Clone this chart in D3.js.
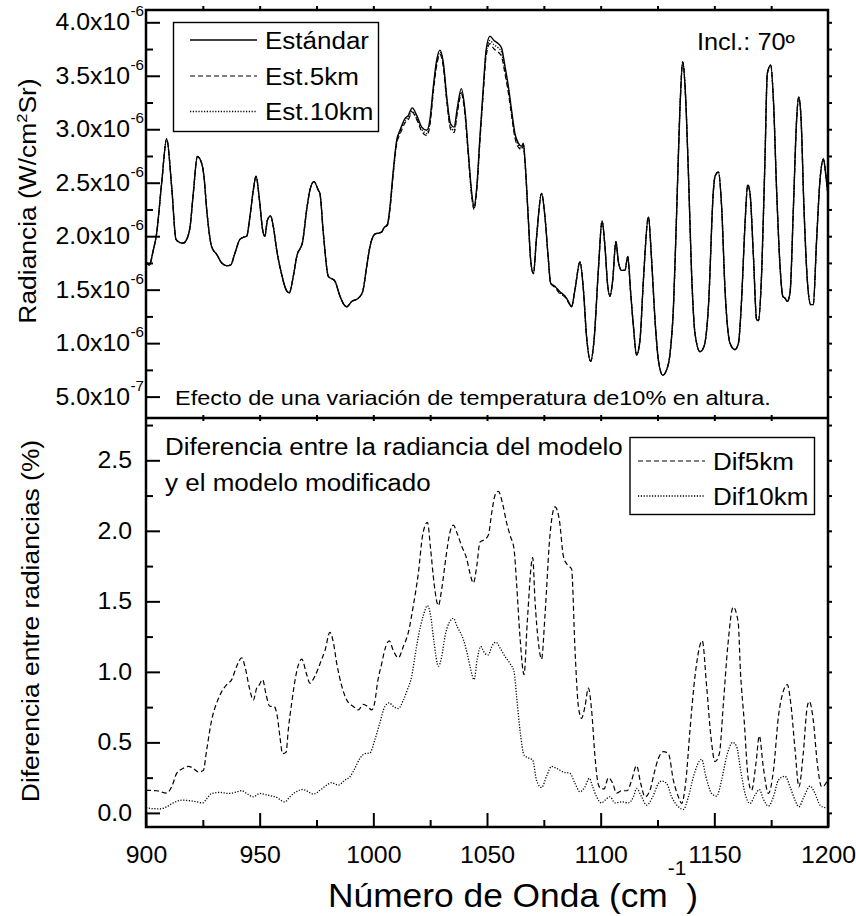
<!DOCTYPE html>
<html><head><meta charset="utf-8">
<script src="https://cdn.jsdelivr.net/npm/d3@7"></script>
<style>
body{margin:0;background:#fff}
svg{display:block}
text{font-family:"Liberation Sans",Arial,Helvetica,sans-serif;fill:#000}
</style>
</head><body>
<svg id="c" width="856" height="916"></svg>
<script>
// ---------- DATA (radiance in units of 1e-6 W/cm²Sr, differences in %) ----------
const waveTop = [900,901.5,903,904.7,906.9,909.1,911.3,913.2,915,916.4,
917.9,919.4,920.8,922.6,924.5,925.5,926.7,928.9,931.1,933.3,
935.5,937.2,939.1,941.3,942.8,944.3,945.7,947.2,948.4,949.9,
951.3,952.3,953.4,954.8,956,957.5,959.7,961.6,963,964.8,
966.3,968.9,970.7,972.1,973.9,975.8,976.5,978,980.2,983.1,
985.3,986.8,988.3,990.5,993.4,995.3,997.1,998.5,1000.7,1002.5,
1003.7,1004.7,1006.2,1007.3,1008.8,1010.3,1011.7,1013.9,1015.4,1017.1,
1019.1,1021.3,1023.5,1024.9,1026.4,1027.9,1029.3,1030.8,1032.3,1034,
1035.5,1037,1038.7,1040.3,1041.8,1043.3,1044.3,1045.5,1046.9,1048.4,
1049.6,1051.3,1053.1,1055,1056.4,1057.9,1059.4,1060.8,1062.3,1063.8,
1065.2,1066,1066.7,1068.2,1069.2,1070.4,1071.8,1074,1075.5,1077,
1078,1079.9,1082.1,1084.3,1085.8,1087.2,1088.7,1090.9,1092.4,1093.8,
1095.6,1097.1,1099,1100.6,1101.9,1103,1104.1,1105.3,1106.7,1107.8,
1109.2,1110.7,1111.9,1113.2,1114.4,1115.8,1117.3,1118.8,1121,1122.4,
1123.9,1125.4,1127.3,1129,1130.5,1132,1133.4,1134.9,1136.1,1137.2,
1138.6,1140,1141.5,1143.7,1145.5,1147.4,1149.6,1150.3,1151.8,1153.2,
1154.7,1156.9,1159.1,1160.6,1162,1163.5,1164.7,1165.7,1167.2,1168.6,
1169.4,1170.8,1172.3,1173.3,1174.8,1176,1177.4,1178.9,1180.1,1181.1,
1182.1,1183.3,1184.8,1186.2,1187.1,1188.1,1189.4,1190.9,1192.4,1193.5,
1195,1196.5,1198,1199.1,1200];

const estandar = [1.76,1.73,1.85,2.03,2.50,2.91,2.46,1.97,1.94,1.935,
1.97,2.09,2.40,2.745,2.68,2.56,2.25,1.90,1.83,1.75,
1.725,1.73,1.84,1.97,1.99,2.00,2.18,2.43,2.56,2.34,
2.06,2.00,2.15,2.19,2.09,1.87,1.64,1.50,1.47,1.625,
1.81,1.95,2.25,2.43,2.51,2.43,2.40,2.03,1.625,1.58,
1.44,1.37,1.34,1.39,1.42,1.48,1.72,1.90,2.02,2.03,
2.04,2.08,2.11,2.27,2.62,2.90,2.99,3.10,3.13,3.20,
3.13,3.02,2.99,3.09,3.40,3.65,3.74,3.62,3.30,3.05,
3.02,3.21,3.38,3.18,2.78,2.40,2.28,2.46,2.93,3.40,
3.74,3.87,3.83,3.80,3.76,3.59,3.40,3.18,2.96,2.87,
2.84,2.87,2.71,2.15,1.78,1.65,1.99,2.40,2.18,1.78,
1.56,1.53,1.48,1.44,1.39,1.34,1.50,1.76,1.50,1.06,
0.83,1.03,1.69,2.14,1.90,1.56,1.44,1.59,1.95,1.76,
1.68,1.68,1.81,1.47,1.16,0.89,1.03,1.59,2.18,1.78,
1.22,0.84,0.70,0.75,0.90,1.33,2.21,3.21,3.63,3.37,
2.59,1.65,1.09,0.92,0.97,1.34,2.43,2.56,2.60,2.28,
1.50,1.00,0.94,1.00,1.41,2.12,2.48,2.40,1.81,1.22,
1.21,1.65,2.74,3.52,3.60,3.27,2.43,1.72,1.44,1.42,
1.39,1.47,2.28,3.09,3.30,3.12,2.28,1.59,1.36,1.36,
1.97,2.53,2.72,2.56,2.38];

const est5km = [1.76,1.73,1.85,2.03,2.50,2.91,2.46,1.97,1.94,1.935,
1.97,2.09,2.40,2.745,2.68,2.56,2.25,1.90,1.83,1.75,
1.725,1.73,1.84,1.97,1.99,2.00,2.18,2.43,2.56,2.34,
2.06,2.00,2.15,2.19,2.09,1.87,1.64,1.50,1.47,1.625,
1.81,1.95,2.25,2.43,2.51,2.43,2.40,2.03,1.625,1.58,
1.44,1.37,1.34,1.39,1.42,1.48,1.72,1.90,2.02,2.03,
2.04,2.08,2.10,2.25,2.59,2.87,2.95,3.06,3.09,3.16,
3.09,2.98,2.94,3.04,3.35,3.60,3.70,3.58,3.26,3.00,
2.97,3.16,3.33,3.14,2.75,2.37,2.25,2.43,2.89,3.35,
3.68,3.80,3.75,3.72,3.68,3.52,3.34,3.13,2.92,2.83,
2.81,2.85,2.70,2.15,1.78,1.65,1.99,2.40,2.18,1.78,
1.56,1.52,1.46,1.43,1.38,1.34,1.50,1.76,1.50,1.06,
0.83,1.03,1.69,2.14,1.90,1.56,1.44,1.59,1.95,1.76,
1.68,1.68,1.81,1.47,1.16,0.89,1.03,1.59,2.18,1.78,
1.22,0.84,0.70,0.75,0.90,1.33,2.21,3.21,3.63,3.37,
2.59,1.65,1.09,0.92,0.97,1.34,2.43,2.56,2.60,2.28,
1.50,1.00,0.94,1.00,1.41,2.12,2.48,2.40,1.81,1.22,
1.21,1.65,2.74,3.52,3.60,3.27,2.43,1.72,1.44,1.42,
1.39,1.47,2.28,3.09,3.30,3.12,2.28,1.59,1.36,1.36,
1.97,2.53,2.72,2.56,2.38];

const est10km = [1.76,1.73,1.85,2.03,2.50,2.91,2.46,1.97,1.94,1.935,
1.97,2.09,2.40,2.745,2.68,2.56,2.25,1.90,1.83,1.75,
1.725,1.73,1.84,1.97,1.99,2.00,2.18,2.43,2.56,2.34,
2.06,2.00,2.15,2.19,2.09,1.87,1.64,1.50,1.47,1.625,
1.81,1.95,2.25,2.43,2.51,2.43,2.40,2.03,1.625,1.58,
1.44,1.37,1.34,1.39,1.42,1.48,1.72,1.90,2.02,2.03,
2.04,2.08,2.11,2.26,2.60,2.88,2.97,3.08,3.11,3.17,
3.10,3.00,2.96,3.06,3.37,3.62,3.72,3.60,3.28,3.02,
2.99,3.18,3.35,3.16,2.76,2.38,2.26,2.44,2.91,3.37,
3.71,3.83,3.79,3.76,3.72,3.55,3.37,3.15,2.94,2.85,
2.82,2.86,2.70,2.15,1.78,1.65,1.99,2.40,2.18,1.78,
1.56,1.53,1.47,1.44,1.39,1.34,1.50,1.76,1.50,1.06,
0.83,1.03,1.69,2.14,1.90,1.56,1.44,1.59,1.95,1.76,
1.68,1.68,1.81,1.47,1.16,0.89,1.03,1.59,2.18,1.78,
1.22,0.84,0.70,0.75,0.90,1.33,2.21,3.21,3.63,3.37,
2.59,1.65,1.09,0.92,0.97,1.34,2.43,2.56,2.60,2.28,
1.50,1.00,0.94,1.00,1.41,2.12,2.48,2.40,1.81,1.22,
1.21,1.65,2.74,3.52,3.60,3.27,2.43,1.72,1.44,1.42,
1.39,1.47,2.28,3.09,3.30,3.12,2.28,1.59,1.36,1.36,
1.97,2.53,2.72,2.56,2.38];

const waveDif5 = [900,904.7,909.1,911.3,913.5,916.4,918.6,920.8,923,925.2,
926.7,928.9,931.1,933.3,935.5,937.7,939.9,942.1,943.5,945.5,
947.2,948.7,949.9,951.3,952.8,954.5,956.3,957.8,958.9,960.1,
961.6,962.6,964.1,966,968.5,970.7,972.1,974.3,977.3,978.7,
980.9,982.4,983.9,986.1,988.3,991.2,993.4,995.6,997.4,999.3,
1000.7,1001.8,1003.7,1005.1,1007,1008.8,1011,1013.2,1015.4,1017.6,
1019.8,1021.7,1023.8,1025.2,1026.7,1028.6,1030.1,1032,1033.7,1035.2,
1036.9,1038.9,1041.1,1042.5,1044,1045.5,1046.9,1049.1,1050.6,1052.1,
1053.5,1055,1056.9,1058.6,1060.1,1061.9,1063,1064.5,1066.3,1067.7,
1070.1,1071.1,1072.6,1074,1075.5,1077.7,1079.9,1081.8,1083.6,1085.3,
1087.2,1088.7,1090.2,1091.6,1093.1,1094.6,1096,1097.5,1099,1100.4,
1101.5,1103.4,1105.3,1107,1109.2,1111.7,1113.6,1115.8,1117.6,1119.5,
1121.7,1123.5,1125.4,1127.6,1129.8,1132,1134.2,1135.6,1137.5,1139.3,
1141.5,1144.7,1146.6,1148.5,1150.3,1152.2,1154,1155.9,1158.3,1160.5,
1161.5,1163.1,1165,1166.4,1168.3,1169.8,1171.5,1173.8,1176,1178.2,
1180.1,1182.1,1183.6,1185.5,1187.2,1189.1,1190.9,1191.8,1193.5,1195.3,
1197.2,1199.1,1200];

const dif5km = [0.16,0.157,0.14,0.185,0.28,0.316,0.33,0.316,0.29,0.30,
0.447,0.66,0.78,0.86,0.91,0.945,1.04,1.10,1.04,0.885,
0.80,0.885,0.91,0.945,0.84,0.755,0.755,0.68,0.54,0.42,
0.43,0.59,0.78,0.98,1.09,0.98,0.92,0.97,1.09,1.15,
1.28,1.21,1.06,0.90,0.80,0.755,0.73,0.77,0.755,0.73,
0.79,0.92,1.06,1.16,1.22,1.15,1.10,1.18,1.28,1.47,
1.70,1.97,2.06,1.87,1.63,1.47,1.59,1.82,1.99,2.04,
1.98,1.89,1.80,1.70,1.63,1.75,1.92,1.94,1.97,2.13,
2.25,2.28,2.19,2.06,1.97,1.87,1.63,1.25,0.98,1.35,
1.81,1.51,1.21,1.09,1.40,1.97,2.17,2.08,1.82,1.76,
1.73,1.16,0.755,0.67,0.755,0.885,0.73,0.40,0.20,0.17,
0.17,0.25,0.21,0.14,0.157,0.157,0.23,0.335,0.21,0.114,
0.16,0.28,0.387,0.434,0.42,0.23,0.114,0.067,0.23,0.59,
0.97,1.22,0.90,0.54,0.364,0.42,0.78,1.18,1.46,1.35,
1.00,0.66,0.23,0.16,0.35,0.546,0.33,0.138,0.30,0.684,
0.85,0.91,0.78,0.45,0.185,0.42,0.755,0.79,0.66,0.35,
0.185,0.21,0.245];

const waveDif10 = [900,903,906.2,909.1,912,915.7,919.4,922.3,924.9,926.7,
928.9,932.6,936.2,939.1,942.1,944.3,947.2,950.1,952.3,955.3,
957.5,959.7,961.1,963.3,966.3,968.9,971.4,973.6,976.5,979.5,
981.7,984.6,987.5,989.7,991.9,994.1,996.3,998.5,1000.7,1002.9,
1005.1,1007,1008.8,1011,1013.2,1014.9,1016.9,1018.3,1019.8,1022,
1023.8,1025.2,1026.7,1028.6,1030.1,1031.5,1033.4,1035.2,1036.9,1039.6,
1041.3,1042.8,1044.3,1045.7,1047.2,1049.1,1050.6,1052.1,1054,1055.7,
1057.9,1060.1,1061.9,1063,1064.5,1066.3,1068.2,1070.1,1071.8,1074,
1076.2,1078.4,1080.6,1083.6,1086.5,1088.7,1090.9,1093.1,1095,1096.5,
1098.2,1100.4,1101.9,1104.1,1106.3,1109.2,1112.2,1114.4,1115.8,1118,
1120.2,1122.9,1125.4,1126.8,1129,1131.2,1134.2,1136.4,1138.6,1140.8,
1144.4,1146.3,1148.8,1151,1153.2,1155.4,1158.1,1159.8,1161.6,1163.5,
1165.7,1167.9,1169.8,1171.5,1173.8,1176,1178.2,1181.1,1183.3,1185.5,
1187.2,1189.4,1192.1,1194.3,1196.5,1198.7,1200];

const dif10km = [0.038,0.03,0.029,0.043,0.071,0.09,0.086,0.078,0.071,0.10,
0.138,0.145,0.138,0.145,0.157,0.138,0.114,0.138,0.131,0.119,
0.11,0.086,0.078,0.114,0.152,0.166,0.15,0.133,0.16,0.197,
0.214,0.197,0.232,0.256,0.316,0.387,0.42,0.425,0.52,0.64,
0.755,0.78,0.755,0.74,0.80,0.87,0.97,1.11,1.25,1.40,
1.47,1.40,1.21,1.04,1.11,1.25,1.35,1.38,1.32,1.23,
1.13,1.02,0.945,1.09,1.18,1.13,1.12,1.18,1.21,1.17,
1.11,1.06,1.00,0.83,0.59,0.41,0.39,0.375,0.23,0.18,
0.26,0.33,0.316,0.29,0.28,0.21,0.15,0.185,0.245,0.185,
0.114,0.071,0.09,0.114,0.071,0.078,0.071,0.114,0.173,0.114,
0.055,0.114,0.209,0.226,0.209,0.114,0.043,0.024,0.114,0.256,
0.38,0.256,0.138,0.119,0.233,0.40,0.50,0.47,0.30,0.138,
0.067,0.126,0.166,0.10,0.048,0.114,0.233,0.26,0.185,0.09,
0.043,0.114,0.19,0.138,0.055,0.038,0.043];

const xTicks = [900,950,1000,1050,1100,1150,1200];
const xMinor = [925,975,1025,1075,1125,1175];
const xEdge = [925,950,975,1000,1025,1050,1075,1100,1125,1150,1175];
const topTicks = [0.5,1.0,1.5,2.0,2.5,3.0,3.5,4.0];
const topTickMant = ["5.0x10","1.0x10","1.5x10","2.0x10","2.5x10","3.0x10","3.5x10","4.0x10"];
const topTickExp = ["-7","-6","-6","-6","-6","-6","-6","-6"];
const topMinor = [0.75,1.25,1.75,2.25,2.75,3.25,3.75];
const botTicks = [0.0,0.5,1.0,1.5,2.0,2.5];
const botTickLabels = ["0.0","0.5","1.0","1.5","2.0","2.5"];
const botMinor = [0.25,0.75,1.25,1.75,2.25,2.75];
const topLegend = ["Estándar","Est.5km","Est.10km"];
const botLegend = ["Dif5km","Dif10km"];

// ---------- LAYOUT ----------
const L=146, R=828, T=10, M=418, B=827;
const svg = d3.select("#c");
const x = d3.scaleLinear().domain([900,1200]).range([L,R]);
const yT = d3.scaleLinear().domain([0.3,4.115]).range([M,T]);
const yB = d3.scaleLinear().domain([-0.1,2.8]).range([B,M]);

const defs = svg.append("defs");
defs.append("clipPath").attr("id","cpT").append("rect").attr("x",L).attr("y",T).attr("width",R-L).attr("height",M-T);
defs.append("clipPath").attr("id","cpB").append("rect").attr("x",L).attr("y",M).attr("width",R-L).attr("height",B-M);

const styles = {
  solid:{dash:null,w:1.4},
  dashed:{dash:"5,3",w:1.2},
  dotted:{dash:"1.2,1.6",w:1.3}
};

function drawLine(xs, ys, yScale, clip, st){
  const line = d3.line().x(d=>x(d[0])).y(d=>yScale(d[1])).curve(d3.curveMonotoneX);
  svg.append("path").datum(d3.zip(xs,ys))
    .attr("clip-path",`url(#${clip})`)
    .attr("fill","none").attr("stroke","#000")
    .attr("stroke-width",st.w).attr("stroke-dasharray",st.dash)
    .attr("stroke-linejoin","round")
    .attr("d",line);
}

drawLine(waveTop, est10km, yT, "cpT", styles.dotted);
drawLine(waveTop, est5km, yT, "cpT", styles.dashed);
drawLine(waveTop, estandar, yT, "cpT", styles.solid);
drawLine(waveDif10, dif10km, yB, "cpB", styles.dotted);
drawLine(waveDif5, dif5km, yB, "cpB", styles.dashed);

// ---------- AXES ----------
function tickAxis(axis, tx, ty, keepText){
  const g = svg.append("g").attr("transform",`translate(${tx},${ty})`).call(axis);
  g.attr("font-family",null).attr("font-size",null);
  g.select(".domain").remove();
  g.selectAll("line").attr("stroke","#000").attr("stroke-width",2);
  if(!keepText) g.selectAll("text").remove();
  return g;
}
function stretchTexts(g, size, sx){
  g.selectAll("text").each(function(){
    const t=d3.select(this);
    const x0=+t.attr("x")||0, y0=+t.attr("y")||0;
    t.attr("x",0).attr("y",0).attr("font-size",size).attr("fill","#000")
     .attr("transform",`translate(${x0},${y0}) scale(${sx},1)`);
  });
}

// top panel left
tickAxis(d3.axisLeft(yT).tickValues(topTicks).tickSize(-14).tickFormat(""), L, 0);
tickAxis(d3.axisLeft(yT).tickValues(topMinor).tickSize(-7).tickFormat(""), L, 0);
// top panel right
tickAxis(d3.axisRight(yT).tickValues(topTicks.concat(topMinor)).tickSize(5).tickFormat(""), R-1, 0);
// bottom panel left
const gBL = tickAxis(d3.axisLeft(yB).tickValues(botTicks).tickSize(-14).tickPadding(14)
  .tickFormat((d,i)=>botTickLabels[i]), L, 0, true);
stretchTexts(gBL, 23, 1.08);
tickAxis(d3.axisLeft(yB).tickValues(botMinor).tickSize(-7).tickFormat(""), L, 0);
tickAxis(d3.axisRight(yB).tickValues(botTicks.concat(botMinor)).tickSize(5).tickFormat(""), R-1, 0);
// bottom x axis
const gX = tickAxis(d3.axisBottom(x).tickValues(xTicks).tickSize(-14).tickPadding(20)
  .tickFormat(d3.format("d")), 0, B, true);
stretchTexts(gX, 23, 1.08);
tickAxis(d3.axisBottom(x).tickValues(xMinor).tickSize(-7).tickFormat(""), 0, B);
// top edge and divider small ticks
tickAxis(d3.axisTop(x).tickValues(xEdge).tickSize(5).tickFormat(""), 0, T+1);
tickAxis(d3.axisBottom(x).tickValues(xEdge).tickSize(6).tickFormat(""), 0, M-3);

// frame
svg.append("rect").attr("x",L).attr("y",T).attr("width",R-L).attr("height",B-T)
  .attr("fill","none").attr("stroke","#000").attr("stroke-width",2.5);
svg.append("line").attr("x1",L).attr("x2",R).attr("y1",M).attr("y2",M)
  .attr("stroke","#000").attr("stroke-width",2.5);

// ---------- TEXT ----------
function label(x0,y0,size,anchor,sx,rot){
  return svg.append("text")
    .attr("transform",`translate(${x0},${y0})`+(rot?` rotate(${rot})`:"")+` scale(${sx},1)`)
    .attr("font-size",size).attr("text-anchor",anchor);
}

// top y tick labels with exponent
topTicks.forEach((v,i)=>{
  const yy = yT(v) + 8.2;
  label(130, yy, 23, "end", 1.08).text(topTickMant[i]);
  label(130.5, yy-14, 14, "start", 1.08).text(topTickExp[i]);
});

// y titles
const t1 = label(36, 201, 24, "middle", 1.1, -90);
t1.append("tspan").text("Radiancia (W/cm");
t1.append("tspan").attr("font-size",15).attr("dy",-9).text("2");
t1.append("tspan").attr("dy",9).text("Sr)");
label(39, 621, 24, "middle", 1.1, -90).text("Diferencia entre radiancias (%)");

// x title
const tx = label(513, 907, 34, "middle", 1.04);
tx.append("tspan").text("Número de Onda (cm");
tx.append("tspan").attr("font-size",20).attr("dy",-32).text("-1");
tx.append("tspan").attr("dy",32).text(")");

// annotations
label(697, 50, 23, "start", 1.1).text("Incl.: 70º");
label(175, 405, 21, "start", 1.12).text("Efecto de una variación de temperatura de10% en altura.");
label(165, 455, 23, "start", 1.13).text("Diferencia entre la radiancia del modelo");
label(165, 491, 23, "start", 1.13).text("y el modelo modificado");

// top legend
svg.append("rect").attr("x",173.5).attr("y",22.5).attr("width",205).attr("height",109)
  .attr("fill","#fff").attr("stroke","#000").attr("stroke-width",1.4);
const topLegStyles = [styles.solid, styles.dashed, styles.dotted];
const topLegY = [40,76,111.5];
topLegend.forEach((s,i)=>{
  svg.append("line").attr("x1",190).attr("x2",257).attr("y1",topLegY[i]).attr("y2",topLegY[i])
    .attr("stroke","#000").attr("stroke-width",topLegStyles[i].w).attr("stroke-dasharray",topLegStyles[i].dash);
  label(265, topLegY[i]+8.8, 23, "start", 1.13).text(s);
});

// bottom legend
svg.append("rect").attr("x",630).attr("y",437.5).attr("width",184.5).attr("height",77)
  .attr("fill","#fff").attr("stroke","#000").attr("stroke-width",1.4);
const botLegStyles = [styles.dashed, styles.dotted];
const botLegY = [461,496];
botLegend.forEach((s,i)=>{
  svg.append("line").attr("x1",638).attr("x2",705).attr("y1",botLegY[i]).attr("y2",botLegY[i])
    .attr("stroke","#000").attr("stroke-width",botLegStyles[i].w).attr("stroke-dasharray",botLegStyles[i].dash);
  label(713, botLegY[i]+9, 23, "start", 1.13).text(s);
});
</script>
</body></html>
